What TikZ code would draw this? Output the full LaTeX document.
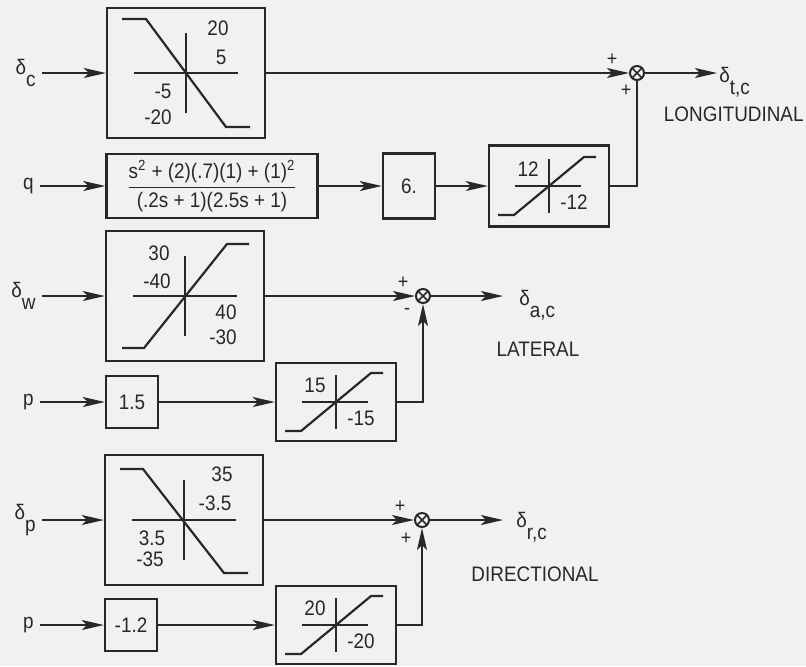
\documentclass[tikz,border=0pt]{standalone}
\usepackage{amsmath}
\usepackage{fontspec}
\setmainfont{Liberation Sans}[FakeStretch=0.9]
\usetikzlibrary{arrows.meta,positioning}
\definecolor{paper}{RGB}{241,241,239}
\definecolor{ink}{RGB}{40,40,40}
\newcommand{\dsig}[2]{#1\raisebox{-1.1ex}{#2}}

\begin{document}
\begin{tikzpicture}[x=0.5pt, y=-0.5pt, color=ink, font=\fontsize{10.5}{12.5}\selectfont,
    blk/.style={draw, line width=1.2pt, inner sep=0pt},
    bigblk/.style={blk, minimum width=79pt, minimum height=65pt},
    limblk/.style={blk, minimum width=60pt, minimum height=39pt},
    gainblk/.style={blk, minimum width=26pt, minimum height=26pt},
    sumnode/.style={draw, circle, line width=1pt, minimum size=7pt, inner sep=0pt,
        path picture={\draw[line width=0.8pt] (path picture bounding box.north west) -- (path picture bounding box.south east)
            (path picture bounding box.south west) -- (path picture bounding box.north east);}},
    sig/.style={line width=0.8pt, -{Stealth[length=11pt, width=5pt, inset=2.5pt]}},
    wire/.style={line width=0.8pt},
    axis/.style={line width=0.8pt},
    ramp/.style={line width=1.1pt},
    sgn/.style={font=\fontsize{10}{11}\selectfont, inner sep=0pt},
    inlbl/.style={anchor=east, inner sep=3pt},
    outlbl/.style={anchor=west, inner sep=0pt},
    mode/.style={font=\fontsize{10.5}{12}\selectfont, inner sep=0pt}]

    \fill[paper] (0,0) rectangle (806,666);
    \useasboundingbox (0,0) rectangle (806,666);

    % longitudinal channel
    \node[bigblk] (limC) at (186,73) {};
    \node[blk, minimum width=105.5pt, minimum height=32pt] (filtQ) at (212,186)
        {$\dfrac{\text{s\textsuperscript{2} + (2)(.7)(1) + (1)\textsuperscript{2}}}{\text{(.2s + 1)(2.5s + 1)}}$};
    \node[gainblk, minimum height=32.5pt] (gainQ) at (409,186) {6.};
    \node[limblk, minimum height=40.5pt] (limQ) at (549,186) {};
    \node[sumnode] (sumT) at (637,73) {};
    \coordinate (endT) at (717,73);

    \node[inlbl] (inC) at (42,73) {\dsig{δ}{c}};
    \node[inlbl] (inQ) at (40,186) {q};
    \node[outlbl] (outT) at (719,82) {\dsig{δ}{t,c}};
    \node[mode, anchor=east] (modeT) at (804,114) {LONGITUDINAL};
    \node[sgn] (sumTa) at ([shift={(-25,-13)}]sumT) {+};
    \node[sgn] (sumTb) at ([shift={(-11,18)}]sumT) {+};

    \draw[sig] (inC) -- (limC);
    \draw[sig] (limC) -- (sumT);
    \draw[sig] (inQ) -- (filtQ);
    \draw[sig] (filtQ) -- (gainQ);
    \draw[sig] (gainQ) -- (limQ);
    \draw[wire] (limQ) -| (sumT);
    \draw[sig] (sumT) -- (endT);

    \begin{scope}[shift={(limC.center)}]
        \draw[axis] (-52,0) -- (52,0) (0,-40) -- (0,40);
        \draw[ramp] (-64,-54) -- (-40,-54) -- (40,54) -- (64,54);
        \node at (32,-45) {20};
        \node at (35,-16) {5};
        \node at (-23,18) {-5};
        \node at (-28,44) {-20};
    \end{scope}
    \begin{scope}[shift={(limQ.center)}]
        \draw[axis] (-34,0) -- (32,0) (0,-27) -- (0,27);
        \draw[ramp] (-51,29) -- (-35,29) -- (35,-29) -- (47,-29);
        \node at (-21,-17) {12};
        \node at (25,16) {-12};
    \end{scope}

    % lateral channel
    \node[bigblk] (limW) at (185,296) {};
    \node[gainblk] (gainP) at (132,402) {1.5};
    \node[limblk] (limP) at (336,402) {};
    \node[sumnode] (sumA) at (423,296) {};
    \coordinate (endA) at (503,296);

    \node[inlbl] (inW) at (42,296) {\dsig{δ}{w}};
    \node[inlbl] (inP) at (40,402) {p};
    \node[outlbl] (outA) at (519,305) {\dsig{δ}{a,c}};
    \node[mode] (modeA) at (538,349) {LATERAL};
    \node[sgn] (sumAa) at ([shift={(-20,-13)}]sumA) {+};
    \node[sgn] (sumAb) at ([shift={(-16,15)}]sumA) {-};

    \draw[sig] (inW) -- (limW);
    \draw[sig] (limW) -- (sumA);
    \draw[sig] (inP) -- (gainP);
    \draw[sig] (gainP) -- (limP);
    \draw[sig] (limP) -| (sumA);
    \draw[sig] (sumA) -- (endA);

    \begin{scope}[shift={(limW.center)}]
        \draw[axis] (-52,0) -- (52,0) (0,-40) -- (0,40);
        \draw[ramp] (-63,52) -- (-41,52) -- (42,-52) -- (64,-52);
        \node at (-26,-43) {30};
        \node at (-28,-15) {-40};
        \node at (41,16) {40};
        \node at (38,41) {-30};
    \end{scope}
    \begin{scope}[shift={(limP.center)}]
        \draw[axis] (-34,0) -- (32,0) (0,-27) -- (0,27);
        \draw[ramp] (-51,29) -- (-35,29) -- (35,-29) -- (47,-29);
        \node at (-21,-17) {15};
        \node at (25,16) {-15};
    \end{scope}

    % directional channel
    \node[bigblk] (limR) at (184,520) {};
    \node[gainblk] (gainR) at (131,625) {-1.2};
    \node[limblk] (limPR) at (336,625) {};
    \node[sumnode] (sumR) at (422,520) {};
    \coordinate (endR) at (503,520);

    \node[inlbl] (inR) at (42,520) {\dsig{δ}{p}};
    \node[inlbl] (inPR) at (40,625) {p};
    \node[outlbl] (outR) at (516,527) {\dsig{δ}{r,c}};
    \node[mode] (modeR) at (535,574) {DIRECTIONAL};
    \node[sgn] (sumRa) at ([shift={(-22,-13)}]sumR) {+};
    \node[sgn] (sumRb) at ([shift={(-16,19)}]sumR) {+};

    \draw[sig] (inR) -- (limR);
    \draw[sig] (limR) -- (sumR);
    \draw[sig] (inPR) -- (gainR);
    \draw[sig] (gainR) -- (limPR);
    \draw[sig] (limPR) -| (sumR);
    \draw[sig] (sumR) -- (endR);

    \begin{scope}[shift={(limR.center)}]
        \draw[axis] (-52,0) -- (52,0) (0,-40) -- (0,40);
        \draw[ramp] (-64,-51) -- (-41,-51) -- (40,53) -- (64,53);
        \node at (38,-46) {35};
        \node at (31,-17) {-3.5};
        \node at (-32,18) {3.5};
        \node at (-34,39) {-35};
    \end{scope}
    \begin{scope}[shift={(limPR.center)}]
        \draw[axis] (-34,0) -- (32,0) (0,-27) -- (0,27);
        \draw[ramp] (-51,29) -- (-35,29) -- (35,-29) -- (47,-29);
        \node at (-21,-17) {20};
        \node at (25,16) {-20};
    \end{scope}
\end{tikzpicture}
\end{document}
